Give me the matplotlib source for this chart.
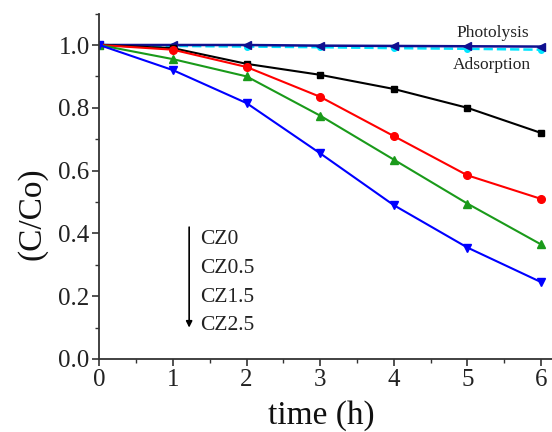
import numpy as np
import matplotlib.pyplot as plt
from matplotlib.ticker import MultipleLocator

plt.rcParams['font.family'] = ['Liberation Serif', 'DejaVu Serif']

# degradation data, C/Co vs irradiation time
time_h = [0, 1, 2, 3, 4, 5, 6]
cz0 = [1.0, 0.99, 0.94, 0.905, 0.86, 0.80, 0.72]
cz05 = [1.0, 0.985, 0.93, 0.835, 0.71, 0.585, 0.51]
cz15 = [1.0, 0.955, 0.90, 0.775, 0.635, 0.495, 0.365]
cz25 = [1.0, 0.92, 0.815, 0.655, 0.49, 0.355, 0.245]
photolysis = [1.0, 1.0, 1.0, 0.998, 0.997, 0.996, 0.995]
adsorption = [1.0, 0.997, 0.995, 0.993, 0.99, 0.988, 0.985]
sample_names = ['CZ0', 'CZ0.5', 'CZ1.5', 'CZ2.5']

fig = plt.figure(figsize=(5.52, 4.32), dpi=100)
ax = fig.add_axes([0.180, 0.169, 0.82, 0.7995])

ax.plot(time_h, adsorption, color='#00e5ff', ls='--', lw=1.8, marker='o', ms=4)
ax.plot(time_h, photolysis, color='#101090', lw=1.8, marker='<', ms=6)
ax.plot(time_h, cz0, color='black', lw=1.5, marker='s', ms=5)
ax.plot(time_h, cz05, color='red', lw=1.5, marker='o', ms=5.5)
ax.plot(time_h, cz15, color='#1a9a1a', lw=1.5, marker='^', ms=6)
ax.plot(time_h, cz25, color='blue', lw=1.5, marker='v', ms=6)

ax.set_xlim(0, 6.15)
ax.set_ylim(0, 1.1)
ax.xaxis.set_major_locator(MultipleLocator(1))
ax.xaxis.set_minor_locator(MultipleLocator(0.5))
ax.yaxis.set_major_locator(MultipleLocator(0.2))
ax.yaxis.set_minor_locator(MultipleLocator(0.1))
ax.yaxis.set_major_formatter(plt.FormatStrFormatter('%.1f'))

for side in ['top', 'right']:
    ax.spines[side].set_visible(False)
for side in ['left', 'bottom']:
    ax.spines[side].set_color('#333333')
    ax.spines[side].set_linewidth(1.3)
ax.tick_params(which='major', direction='out', length=5, width=1.2,
               labelsize=18, colors='#333333', labelcolor='#222222', pad=2)
ax.tick_params(which='minor', direction='out', length=3, width=1.0, colors='#333333')

# axis titles placed by hand
ax.text(0.49, -0.165, 'time (h)', fontsize=24, ha='center', va='center',
        transform=ax.transAxes, color='#111111')
ax.text(-0.149, 0.42, '(C/Co)', fontsize=24, ha='center', va='center',
        rotation=90, transform=ax.transAxes, color='#111111')

ax.text(5.34, 1.038, 'Photolysis', fontsize=12.5, ha='center', va='center', color='#222222')
ax.text(5.34, 0.936, 'Adsorption', fontsize=12.5, ha='center', va='center', color='#222222')

# arrow showing increasing loading
ax.annotate('', xy=(1.22, 0.10), xytext=(1.22, 0.42),
            arrowprops=dict(arrowstyle='-|>', color='black', lw=1.2,
                            mutation_scale=9, shrinkA=0, shrinkB=0))
for name, yv in zip(sample_names, [0.379, 0.287, 0.197, 0.108]):
    ax.text(1.37, yv, name, fontsize=15.5, ha='left', va='center', color='#222222')

fig.savefig('out.png', dpi=100)
